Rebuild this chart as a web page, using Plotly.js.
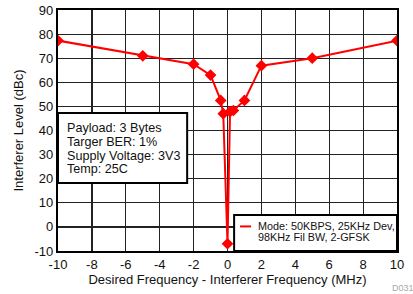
<!DOCTYPE html>
<html>
<head>
<meta charset="utf-8">
<script src="https://cdn.plot.ly/plotly-3.0.1.min.js"></script>
<style>html,body{margin:0;padding:0;background:#fff;}#chart{width:413px;height:294px;}</style>
</head>
<body>
<div id="chart"></div>
<script>
var freqOffset = [-10, -5, -2, -1, -0.4, -0.25, 0, 0.15, 0.35, 1, 2, 5, 10];
var interfererLevel = [77.3, 71, 67.5, 63, 52.5, 47, -7, 47.8, 48.3, 52.5, 66.9, 70, 77.3];
var xTickVals = [-10, -8, -6, -4, -2, 0, 2, 4, 6, 8, 10];
var xTickText = ["-10", "-8", "-6", "-4", "-2", "0", "2", "4", "6", "8", "10"];
var yTickVals = [-10, 0, 10, 20, 30, 40, 50, 60, 70, 80, 90];
var yTickText = ["-10", "0", "10", "20", "30", "40", "50", "60", "70", "80", "90"];
var infoLines = ["Payload: 3 Bytes", "Targer BER: 1%", "Supply Voltage: 3V3", "Temp: 25C"];
var legendLines = ["Mode: 50KBPS, 25KHz Dev,", "98KHz Fil BW, 2-GFSK"];

var FONT = "Liberation Sans, Arial, sans-serif";

var trace = {
  x: freqOffset, y: interfererLevel, type: "scatter", mode: "lines+markers",
  name: legendLines.join(" "),
  line: {color: "#ff0000", width: 2},
  marker: {symbol: "diamond", size: 9, color: "#ff0000"},
  showlegend: false
};

var infoY = [41.1, 35.3, 29.4, 23.9];
var annotations = infoLines.map(function (t, i) {
  return {xref: "x", yref: "y", x: -9.6, y: infoY[i], xanchor: "left", yanchor: "middle",
    text: t, showarrow: false, font: {family: FONT, size: 12.6, color: "#111"}};
});
var legY = [0.2, -4.3];
legendLines.forEach(function (t, i) {
  annotations.push({xref: "x", yref: "y", x: 1.67, y: legY[i], xanchor: "left", yanchor: "middle",
    text: t, showarrow: false, font: {family: FONT, size: 10.8, color: "#111"}});
});
annotations.push({xref: "paper", yref: "paper", x: 1.0, y: 0, xshift: -7, yshift: -37,
  xanchor: "left", yanchor: "middle", text: "D031", showarrow: false,
  font: {family: FONT, size: 9, color: "#aaaaaa"}});

var layout = {
  width: 413, height: 294,
  margin: {l: 57.5, r: 15.7, t: 10, b: 43},
  paper_bgcolor: "#fff", plot_bgcolor: "#fff",
  font: {family: FONT, color: "#111"},
  showlegend: false,
  xaxis: {range: [-10, 10], tickvals: xTickVals, ticktext: xTickText,
    showgrid: true, gridcolor: "#222", gridwidth: 1.2, zeroline: false,
    showline: true, mirror: true, linecolor: "#000", linewidth: 2.2, ticks: "",
    tickfont: {family: FONT, size: 13, color: "#111"},
    title: {text: "Desired Frequency - Interferer Frequency (MHz)", font: {family: FONT, size: 13, color: "#111"}, standoff: 4}},
  yaxis: {range: [-10, 90], tickvals: yTickVals, ticktext: yTickText,
    showgrid: true, gridcolor: "#222", gridwidth: 1.2, zeroline: false,
    showline: true, mirror: true, linecolor: "#000", linewidth: 2.2, ticks: "",
    tickfont: {family: FONT, size: 13, color: "#111"},
    title: {text: "Interferer Level (dBc)", font: {family: FONT, size: 13, color: "#111"}, standoff: 8}},
  shapes: [
    {type: "rect", xref: "x", yref: "y", x0: -10, x1: -2.38, y0: 18.2, y1: 47.3,
      fillcolor: "#fff", line: {color: "#000", width: 2}, layer: "above"},
    {type: "rect", xref: "x", yref: "y", x0: 0.39, x1: 10, y0: -10, y1: 4.94,
      fillcolor: "#fff", line: {color: "#000", width: 2}, layer: "above"},
    {type: "line", xref: "x", yref: "y", x0: 0.74, x1: 1.39, y0: 0.2, y1: 0.2,
      line: {color: "#ff0000", width: 2}, layer: "above"}
  ],
  annotations: annotations
};

Plotly.newPlot("chart", [trace], layout, {staticPlot: true, displayModeBar: false});
</script>
</body>
</html>
